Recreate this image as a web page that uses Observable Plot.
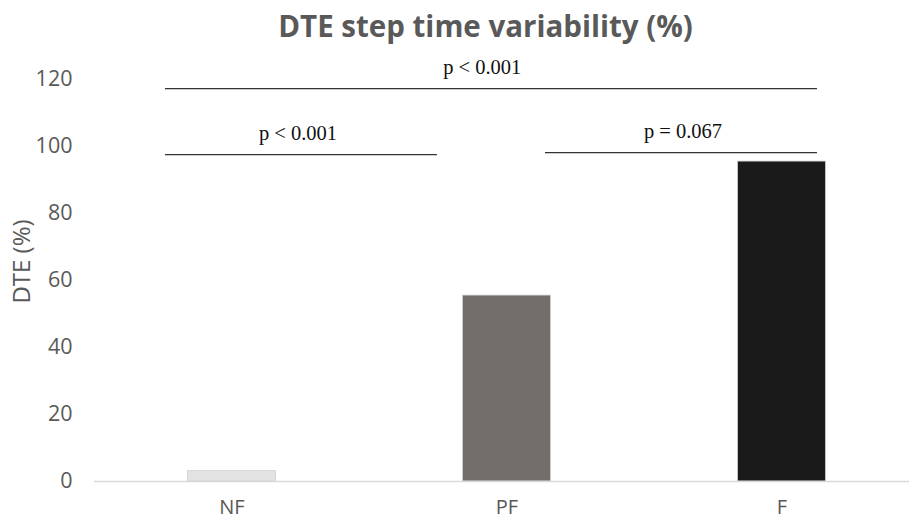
<!DOCTYPE html>
<html>
<head>
<meta charset="utf-8">
<script src="https://cdn.jsdelivr.net/npm/d3@7"></script>
<script src="https://cdn.jsdelivr.net/npm/@observablehq/plot@0.6"></script>
<style>
  html, body { margin: 0; padding: 0; background: #fff; }
  #title { box-sizing: border-box; width: 909px; height: 40px; line-height: 52px; text-align: center; padding-left: 62px;
           font-family: "Open Sans", sans-serif; font-weight: 700; font-size: 29.5px; color: #595959; }
  #chart svg { display: block; }
</style>
</head>
<body>
<div id="title">DTE step time variability (%)</div>
<div id="chart"></div>
<script>
const categories = ["NF", "PF", "F"];
const values = [3.1, 55.5, 95.5];
const barColors = ["#e3e3e3", "#736d6c", "#1a1a1a"];
const yTicks = [0, 20, 40, 60, 80, 100, 120];

// significance brackets (x in category-index units, y in data units)
const bracketLabels = ["p < 0.001", "p < 0.001", "p = 0.067"];
const bracketX1 = [-0.242, -0.242, 1.14];
const bracketX2 = [2.129, 0.747, 2.129];
const bracketY = [117.3, 97.6, 98.2];
const bracketLabelX = [0.91, 0.24, 1.64];

const bars = categories.map((c, i) => ({cat: c, i, value: values[i], color: barColors[i]}));
const brackets = bracketLabels.map((l, k) => ({
  label: l, x1: bracketX1[k], x2: bracketX2[k], y: bracketY[k], xm: bracketLabelX[k]
}));

const halfWidth = 0.16;

const chart = Plot.plot({
  width: 909,
  height: 479,
  marginTop: 39,
  marginBottom: 38,
  marginLeft: 94,
  marginRight: 0,
  style: {fontFamily: "Open Sans, sans-serif", background: "transparent", overflow: "visible"},
  x: {domain: [-0.5, 2.5], range: [94, 919], axis: null},
  y: {domain: [0, 120], axis: null},
  marks: [
    Plot.rectY(bars, {x1: d => d.i - halfWidth, x2: d => d.i + halfWidth, y1: 0, y2: "value", fill: "color", stroke: "#d0d0d0", strokeWidth: 0.8}),
    Plot.ruleY([0], {stroke: "#d9d9d9", strokeWidth: 1.5}),
    Plot.axisY(yTicks, {ticks: yTicks, tickSize: 0, tickPadding: 22, fontSize: 21.5, fill: "#595959", label: null}),
    Plot.axisX([0, 1, 2], {ticks: [0, 1, 2], tickSize: 0, tickPadding: 18, tickFormat: i => categories[i], fontSize: 20, fill: "#595959", label: null}),
    Plot.text(["DTE (%)"], {frameAnchor: "left", textAnchor: "middle", dx: -72, dy: -19, rotate: -90, fontSize: 24, fill: "#595959"}),
    Plot.ruleY(brackets, {x1: "x1", x2: "x2", y: "y", stroke: "#333", strokeWidth: 1.2}),
    Plot.text(brackets, {x: "xm", y: "y", text: "label", dy: -21, fontFamily: "Liberation Serif, serif", fontSize: 20.5, fill: "#111"})
  ]
});
document.getElementById("chart").appendChild(chart);
</script>
</body>
</html>
